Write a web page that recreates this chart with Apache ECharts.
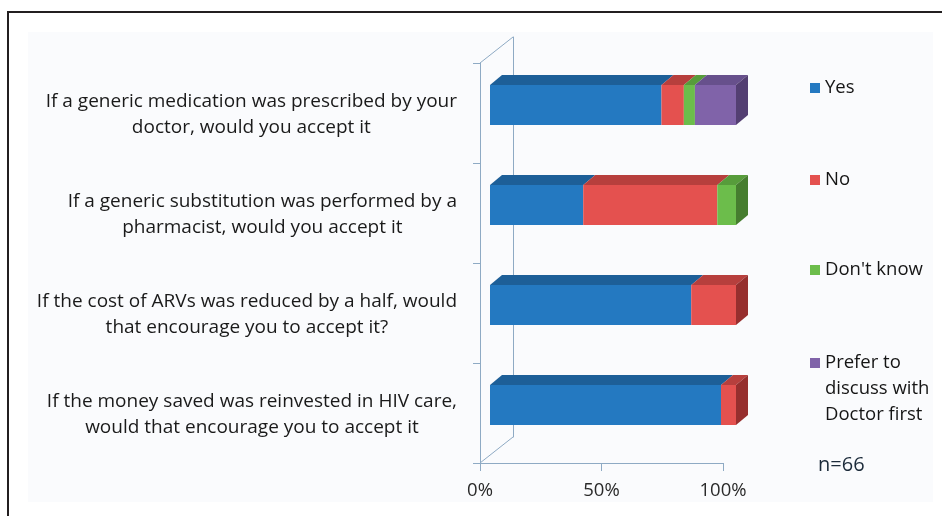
<!DOCTYPE html>
<html><head><meta charset="utf-8">
<script src="https://cdn.jsdelivr.net/npm/echarts@6/dist/echarts.min.js"></script>
<style>html,body{margin:0;padding:0;background:#fff}#c{width:942px;height:516px}</style>
</head><body><div id="c"></div>
<script>
// ---- data ----
const categories = [
  "If a generic medication was prescribed by your\ndoctor, would you accept it",
  "If a generic substitution was performed by a\npharmacist, would you accept it",
  "If the cost of ARVs was reduced by a half, would\nthat encourage you to accept it?",
  "If the money saved was reinvested in HIV care,\nwould that encourage you to accept it"
];
const seriesNames = ["Yes", "No", "Don't know", "Prefer to discuss with Doctor first"];
const yesValues = [69.7, 37.9, 81.8, 93.9];
const noValues = [9.1, 54.5, 18.2, 6.1];
const dontKnowValues = [4.5, 7.6, 0, 0];
const preferValues = [16.7, 0, 0, 0];
const xTickLabels = ["0%", "50%", "100%"];
const sampleNote = "n=66";

// ---- styles / layout ----
const FONT = "'Open Sans', 'Liberation Sans', sans-serif";
const AXIS_COLOR = '#8eaac4';
const palette = [
  {front: '#2479c1', top: '#1d5f98', side: '#174b7a'},
  {front: '#e4514f', top: '#b73f3d', side: '#962f2e'},
  {front: '#6cbd4b', top: '#579c3b', side: '#467d2f'},
  {front: '#8063a9', top: '#67508c', side: '#533f72'}
];
const allValues = [yesValues, noValues, dontKnowValues, preferValues];
const DX = 12, DY = -10;
const FRONT = {left: 480, top: 63, width: 243, height: 400};
const BACK = {left: 513, top: 37, height: 400};
const BARS = {left: 490, top: 55, width: 246, height: 400};

function makeSeries(idx) {
  const c = palette[idx];
  const data = [];
  categories.forEach((cat, i) => {
    let start = 0;
    for (let k = 0; k < idx; k++) start += allValues[k][i];
    const v = allValues[idx][i];
    if (!(v > 0)) return;
    let isLast = 1;
    for (let k = idx + 1; k < allValues.length; k++) if (allValues[k][i] > 0) isLast = 0;
    data.push([i, start, start + v, isLast]);
  });
  return {
    type: 'custom', name: seriesNames[idx], xAxisIndex: 0, yAxisIndex: 0,
    itemStyle: {color: c.front},
    encode: {x: [1, 2], y: 0},
    data: data,
    silent: true,
    renderItem: function (params, api) {
      const cat = api.value(0);
      const p0 = api.coord([api.value(1), cat]);
      const p1 = api.coord([api.value(2), cat]);
      const h = api.size([0, 1])[1] * 0.4;
      const x0 = p0[0], x1 = p1[0], yt = p0[1] - h / 2, yb = p0[1] + h / 2;
      const children = [
        {type: 'polygon', shape: {points: [[x0, yt], [x1, yt], [x1 + DX, yt + DY], [x0 + DX, yt + DY]]}, style: {fill: c.top}},
        {type: 'rect', shape: {x: x0, y: yt, width: x1 - x0, height: h}, style: {fill: c.front}}
      ];
      if (api.value(3)) {
        children.push({type: 'polygon', shape: {points: [[x1, yt], [x1 + DX, yt + DY], [x1 + DX, yb + DY], [x1, yb]]}, style: {fill: c.side}});
      }
      return {type: 'group', children: children};
    }
  };
}

const legendTops = [75, 167, 257, 298];
const legends = seriesNames.map((n, i) => ({
  data: [n], orient: 'vertical', left: 810, top: legendTops[i], padding: 0,
  itemWidth: 10, itemHeight: 10, icon: 'rect', selectedMode: false,
  formatter: i === 3 ? ' \n \nPrefer to\ndiscuss with\nDoctor first' : '{name}',
  textStyle: {fontSize: 18.5, color: '#151515', fontFamily: FONT, lineHeight: 26}
}));

const chart = echarts.init(document.getElementById('c'), null, {renderer: 'canvas'});
chart.setOption({
  animation: false,
  backgroundColor: '#ffffff',
  legend: legends,
  grid: [
    {left: BARS.left, top: BARS.top, width: BARS.width, height: BARS.height},
    {left: FRONT.left, top: FRONT.top, width: FRONT.width, height: FRONT.height},
    {left: BACK.left, top: BACK.top, width: 10, height: BACK.height}
  ],
  xAxis: [
    {gridIndex: 0, type: 'value', min: 0, max: 100, show: false},
    {gridIndex: 1, type: 'value', min: 0, max: 100, interval: 50,
      axisLine: {show: true, lineStyle: {color: AXIS_COLOR, width: 1}},
      axisTick: {show: true, length: 8, lineStyle: {color: AXIS_COLOR}},
      splitLine: {show: false},
      axisLabel: {margin: 18, color: '#2a2a2a', fontSize: 18.5, fontFamily: FONT,
        formatter: function (v) { return xTickLabels[Math.round(v / 50)] || ''; }}},
    {gridIndex: 2, type: 'value', show: false}
  ],
  yAxis: [
    {gridIndex: 0, type: 'category', data: categories, inverse: true, show: false},
    {gridIndex: 1, type: 'category', data: categories, inverse: true,
      axisLine: {show: true, lineStyle: {color: AXIS_COLOR, width: 1}},
      axisTick: {show: true, length: 7, lineStyle: {color: AXIS_COLOR}},
      axisLabel: {margin: 23, align: 'right', color: '#1a1a1a', fontFamily: FONT,
        formatter: function (v) { return v.split('\n').map(l => '{a|' + l + '}').join('\n'); },
        rich: {a: {align: 'center', fontSize: 19, lineHeight: 26, color: '#1a1a1a', fontFamily: FONT, padding: [4, 0, 0, 0]}}}},
    {gridIndex: 2, type: 'value', min: 0, max: 1,
      axisLine: {show: true, onZero: false, lineStyle: {color: AXIS_COLOR, width: 1}},
      axisTick: {show: false}, axisLabel: {show: false}, splitLine: {show: false}}
  ],
  graphic: [
    {type: 'rect', z: -10, shape: {x: 28, y: 32, width: 905, height: 470}, style: {fill: '#fafbfd'}},
    {type: 'line', z: 5, shape: {x1: 7, y1: 12, x2: 942, y2: 12}, style: {stroke: '#231f20', lineWidth: 2}},
    {type: 'line', z: 5, shape: {x1: 8, y1: 12, x2: 8, y2: 516}, style: {stroke: '#231f20', lineWidth: 2}},
    {type: 'line', shape: {x1: FRONT.left, y1: FRONT.top, x2: BACK.left, y2: BACK.top}, style: {stroke: AXIS_COLOR, lineWidth: 1}},
    {type: 'line', shape: {x1: FRONT.left, y1: FRONT.top + FRONT.height, x2: BACK.left, y2: BACK.top + BACK.height}, style: {stroke: AXIS_COLOR, lineWidth: 1}},
    {type: 'text', left: 818, top: 455, style: {text: sampleNote, fontSize: 20, fill: '#1c2b3a', fontFamily: FONT}}
  ],
  series: seriesNames.map((n, i) => makeSeries(i))
});
</script>
</body></html>
